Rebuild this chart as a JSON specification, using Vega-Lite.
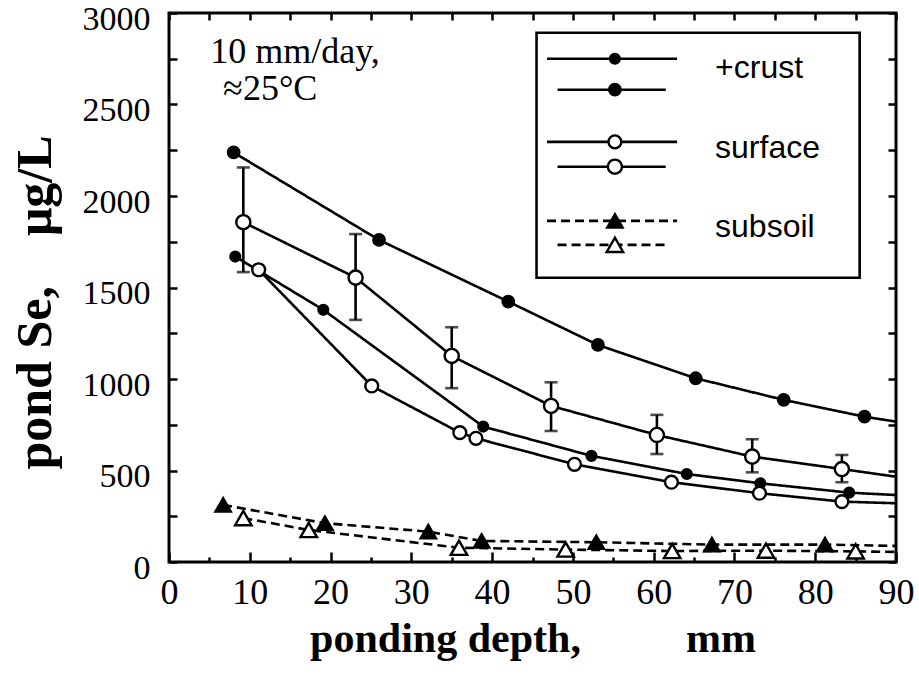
{
  "$schema": "https://vega.github.io/schema/vega-lite/v6.json",
  "width": 727,
  "height": 549,
  "autosize": "none",
  "padding": {"left": 169, "top": 13, "right": 23, "bottom": 118},
  "background": "white",
  "config": {
    "view": {"stroke": "black", "strokeWidth": 3},
    "axis": {
      "domain": false, "grid": false, "tickColor": "black", "tickWidth": 2.5,
      "labelColor": "black", "titleColor": "black",
      "labelFont": "Liberation Serif", "titleFont": "Liberation Serif",
      "labelFontSize": 36, "titleFontSize": 42, "titleFontWeight": "bold",
      "labelOverlap": false, "labelFlush": false
    }
  },
  "datasets": {
    "lines": [
      {"series": "crust_s", "x": 8.2, "y": 1669}, {"series": "crust_s", "x": 19.1, "y": 1378}, {"series": "crust_s", "x": 38.9, "y": 740}, {"series": "crust_s", "x": 52.3, "y": 580}, {"series": "crust_s", "x": 64.1, "y": 481}, {"series": "crust_s", "x": 73.2, "y": 430}, {"series": "crust_s", "x": 84.2, "y": 379}, {"series": "crust_s", "x": 90, "y": 366},
      {"series": "crust_l", "x": 8.0, "y": 2238}, {"series": "crust_l", "x": 26.0, "y": 1760}, {"series": "crust_l", "x": 42.0, "y": 1423}, {"series": "crust_l", "x": 53.1, "y": 1186}, {"series": "crust_l", "x": 65.2, "y": 1004}, {"series": "crust_l", "x": 76.1, "y": 886}, {"series": "crust_l", "x": 86.1, "y": 794}, {"series": "crust_l", "x": 90, "y": 767},
      {"series": "surface_s", "x": 11.1, "y": 1597}, {"series": "surface_s", "x": 25.1, "y": 962}, {"series": "surface_s", "x": 36.0, "y": 707}, {"series": "surface_s", "x": 38.0, "y": 676}, {"series": "surface_s", "x": 50.2, "y": 534}, {"series": "surface_s", "x": 62.2, "y": 436}, {"series": "surface_s", "x": 73.1, "y": 376}, {"series": "surface_s", "x": 83.3, "y": 330}, {"series": "surface_s", "x": 90, "y": 321},
      {"series": "surface_l", "x": 9.2, "y": 1857}, {"series": "surface_l", "x": 23.1, "y": 1554}, {"series": "surface_l", "x": 35.0, "y": 1126}, {"series": "surface_l", "x": 47.3, "y": 853}, {"series": "surface_l", "x": 60.4, "y": 694}, {"series": "surface_l", "x": 72.2, "y": 576}, {"series": "surface_l", "x": 83.3, "y": 508}, {"series": "surface_l", "x": 90, "y": 466},
      {"series": "subsoil_s", "x": 6.7, "y": 312}, {"series": "subsoil_s", "x": 19.3, "y": 212}, {"series": "subsoil_s", "x": 32.1, "y": 166}, {"series": "subsoil_s", "x": 38.7, "y": 115}, {"series": "subsoil_s", "x": 52.9, "y": 108}, {"series": "subsoil_s", "x": 67.2, "y": 95}, {"series": "subsoil_s", "x": 81.2, "y": 95}, {"series": "subsoil_s", "x": 90, "y": 88},
      {"series": "subsoil_l", "x": 9.2, "y": 240}, {"series": "subsoil_l", "x": 17.3, "y": 175}, {"series": "subsoil_l", "x": 35.9, "y": 78}, {"series": "subsoil_l", "x": 49.1, "y": 68}, {"series": "subsoil_l", "x": 62.3, "y": 60}, {"series": "subsoil_l", "x": 73.9, "y": 62}, {"series": "subsoil_l", "x": 85.0, "y": 58}, {"series": "subsoil_l", "x": 90, "y": 55}
    ],
    "points": [
      {"series": "crust_s", "x": 8.2, "y": 1669}, {"series": "crust_s", "x": 19.1, "y": 1378}, {"series": "crust_s", "x": 38.9, "y": 740}, {"series": "crust_s", "x": 52.3, "y": 580}, {"series": "crust_s", "x": 64.1, "y": 481}, {"series": "crust_s", "x": 73.2, "y": 430}, {"series": "crust_s", "x": 84.2, "y": 379},
      {"series": "crust_l", "x": 8.0, "y": 2238}, {"series": "crust_l", "x": 26.0, "y": 1760}, {"series": "crust_l", "x": 42.0, "y": 1423}, {"series": "crust_l", "x": 53.1, "y": 1186}, {"series": "crust_l", "x": 65.2, "y": 1004}, {"series": "crust_l", "x": 76.1, "y": 886}, {"series": "crust_l", "x": 86.1, "y": 794},
      {"series": "surface_s", "x": 11.1, "y": 1597}, {"series": "surface_s", "x": 25.1, "y": 962}, {"series": "surface_s", "x": 36.0, "y": 707}, {"series": "surface_s", "x": 38.0, "y": 676}, {"series": "surface_s", "x": 50.2, "y": 534}, {"series": "surface_s", "x": 62.2, "y": 436}, {"series": "surface_s", "x": 73.1, "y": 376}, {"series": "surface_s", "x": 83.3, "y": 330},
      {"series": "surface_l", "x": 9.2, "y": 1857}, {"series": "surface_l", "x": 23.1, "y": 1554}, {"series": "surface_l", "x": 35.0, "y": 1126}, {"series": "surface_l", "x": 47.3, "y": 853}, {"series": "surface_l", "x": 60.4, "y": 694}, {"series": "surface_l", "x": 72.2, "y": 576}, {"series": "surface_l", "x": 83.3, "y": 508},
      {"series": "subsoil_s", "x": 6.7, "y": 312}, {"series": "subsoil_s", "x": 19.3, "y": 212}, {"series": "subsoil_s", "x": 32.1, "y": 166}, {"series": "subsoil_s", "x": 38.7, "y": 115}, {"series": "subsoil_s", "x": 52.9, "y": 108}, {"series": "subsoil_s", "x": 67.2, "y": 95}, {"series": "subsoil_s", "x": 81.2, "y": 95},
      {"series": "subsoil_l", "x": 9.2, "y": 240}, {"series": "subsoil_l", "x": 17.3, "y": 175}, {"series": "subsoil_l", "x": 35.9, "y": 78}, {"series": "subsoil_l", "x": 49.1, "y": 68}, {"series": "subsoil_l", "x": 62.3, "y": 60}, {"series": "subsoil_l", "x": 73.9, "y": 62}, {"series": "subsoil_l", "x": 85.0, "y": 58}
    ],
    "errors": [
      {"x": 9.2, "lo": 1584, "hi": 2156}, {"x": 23.1, "lo": 1323, "hi": 1792}, {"x": 35.0, "lo": 950, "hi": 1283},
      {"x": 47.3, "lo": 716, "hi": 982}, {"x": 60.4, "lo": 590, "hi": 804}, {"x": 72.2, "lo": 490, "hi": 671}, {"x": 83.3, "lo": 436, "hi": 585}
    ],
    "legendbox": [{"x1": 45.5, "x2": 85.5, "y1": 2892, "y2": 1553}],
    "legend": [
      {"series": "crust_s", "x1": 46.8, "x2": 62.9, "xm": 55.2, "y": 2750},
      {"series": "crust_l", "x1": 48.1, "x2": 61.5, "xm": 55.2, "y": 2581},
      {"series": "surface_s", "x1": 46.8, "x2": 62.9, "xm": 55.2, "y": 2296},
      {"series": "surface_l", "x1": 48.1, "x2": 61.5, "xm": 55.2, "y": 2160},
      {"series": "subsoil_s", "x1": 46.8, "x2": 62.9, "xm": 55.2, "y": 1864},
      {"series": "subsoil_l", "x1": 48.1, "x2": 61.5, "xm": 55.2, "y": 1733}
    ],
    "labels": [
      {"label": "+crust", "x": 67.6, "y": 2646},
      {"label": "surface", "x": 67.6, "y": 2209},
      {"label": "subsoil", "x": 67.6, "y": 1777}
    ],
    "notes": [
      {"label": "10 mm/day,", "x": 5.1, "y": 2728},
      {"label": "≈25°C", "x": 6.7, "y": 2526}
    ]
  },
  "resolve": {"axis": {"x": "independent", "y": "independent"}},
  "layer": [
    {
      "data": {"name": "lines"},
      "mark": {"type": "line", "color": "black", "strokeWidth": 2.6},
      "encoding": {
        "x": {"field": "x", "type": "quantitative", "scale": {"domain": [0, 90], "nice": false, "zero": false},
          "axis": {"orient": "bottom", "values": [0, 10, 20, 30, 40, 50, 60, 70, 80, 90], "tickSize": -10, "labelPadding": 23, "format": "d",
            "title": "ponding depth,\u00a0\u00a0\u00a0\u00a0\u00a0\u00a0\u00a0\u00a0\u00a0\u00a0mm", "titlePadding": 8}},
        "y": {"field": "y", "type": "quantitative", "scale": {"domain": [0, 3000], "nice": false, "zero": true},
          "axis": {"orient": "left", "values": [0, 250, 500, 750, 1000, 1250, 1500, 1750, 2000, 2250, 2500, 2750, 3000], "labelExpr": "datum.value % 500 == 0 ? datum.label : ''",
            "format": "d", "tickSize": -8, "labelPadding": 27, "labelOffset": 6, "labelFontSize": 34, "title": "pond Se,\u00a0\u00a0\u00a0\u00a0μg/L", "titleFontSize": 50, "titlePadding": 22, "titleY": 289}},
        "detail": {"field": "series", "type": "nominal"},
        "strokeDash": {"field": "series", "type": "nominal", "legend": null,
          "scale": {"domain": ["crust_s", "crust_l", "surface_s", "surface_l", "subsoil_s", "subsoil_l"], "range": [[1, 0], [1, 0], [1, 0], [1, 0], [9, 5], [9, 5]]}}
      }
    },
    {
      "data": {"name": "errors"},
      "mark": {"type": "rule", "color": "black", "strokeWidth": 2.6},
      "encoding": {
        "x": {"field": "x", "type": "quantitative", "scale": {"domain": [0, 90], "nice": false, "zero": false},
          "axis": {"orient": "top", "values": [0, 5, 10, 15, 20, 25, 30, 35, 40, 45, 50, 55, 60, 65, 70, 75, 80, 85, 90], "tickSize": -7, "labels": false, "title": null}},
        "y": {"field": "lo", "type": "quantitative", "scale": {"domain": [0, 3000], "nice": false, "zero": true},
          "axis": {"orient": "right", "values": [0, 250, 500, 750, 1000, 1250, 1500, 1750, 2000, 2250, 2500, 2750, 3000], "tickSize": -8, "labels": false, "title": null}},
        "y2": {"field": "hi"}
      }
    },
    {
      "data": {"name": "errors"},
      "transform": [{"fold": ["lo", "hi"], "as": ["end", "value"]}],
      "mark": {"type": "tick", "orient": "horizontal", "color": "black", "size": 13, "thickness": 2.6},
      "encoding": {
        "x": {"field": "x", "type": "quantitative", "scale": {"domain": [0, 90], "nice": false, "zero": false}, "axis": null},
        "y": {"field": "value", "type": "quantitative", "scale": {"domain": [0, 3000], "nice": false, "zero": true}, "axis": null}
      }
    },
    {
      "data": {"name": "points"},
      "mark": {"type": "point", "stroke": "black", "strokeWidth": 2.4, "opacity": 1, "fillOpacity": 1},
      "encoding": {
        "x": {"field": "x", "type": "quantitative", "scale": {"domain": [0, 90], "nice": false, "zero": false},
          "axis": {"orient": "bottom", "values": [5, 15, 25, 35, 45, 55, 65, 75, 85], "tickSize": -5, "labels": false, "title": null}},
        "y": {"field": "y", "type": "quantitative", "scale": {"domain": [0, 3000], "nice": false, "zero": true}, "axis": null},
        "shape": {"field": "series", "type": "nominal", "legend": null,
          "scale": {"domain": ["crust_s", "crust_l", "surface_s", "surface_l", "subsoil_s", "subsoil_l"], "range": ["circle", "circle", "circle", "circle", "triangle-up", "triangle-up"]}},
        "fill": {"field": "series", "type": "nominal", "legend": null,
          "scale": {"domain": ["crust_s", "crust_l", "surface_s", "surface_l", "subsoil_s", "subsoil_l"], "range": ["black", "black", "white", "white", "black", "white"]}},
        "size": {"field": "series", "type": "nominal", "legend": null,
          "scale": {"domain": ["crust_s", "crust_l", "surface_s", "surface_l", "subsoil_s", "subsoil_l"], "range": [95, 270, 75, 240, 32, 130]}}
      }
    },
    {
      "data": {"name": "legendbox"},
      "mark": {"type": "rect", "fill": "white", "stroke": "black", "strokeWidth": 2.6},
      "encoding": {
        "x": {"field": "x1", "type": "quantitative", "scale": {"domain": [0, 90], "nice": false, "zero": false}, "axis": null},
        "x2": {"field": "x2"},
        "y": {"field": "y1", "type": "quantitative", "scale": {"domain": [0, 3000], "nice": false, "zero": true}, "axis": null},
        "y2": {"field": "y2"}
      }
    },
    {
      "data": {"name": "legend"},
      "mark": {"type": "rule", "color": "black", "strokeWidth": 2.6},
      "encoding": {
        "x": {"field": "x1", "type": "quantitative", "scale": {"domain": [0, 90], "nice": false, "zero": false}, "axis": null},
        "x2": {"field": "x2"},
        "y": {"field": "y", "type": "quantitative", "scale": {"domain": [0, 3000], "nice": false, "zero": true}, "axis": null},
        "strokeDash": {"field": "series", "type": "nominal", "legend": null,
          "scale": {"domain": ["crust_s", "crust_l", "surface_s", "surface_l", "subsoil_s", "subsoil_l"], "range": [[1, 0], [1, 0], [1, 0], [1, 0], [9, 5], [9, 5]]}}
      }
    },
    {
      "data": {"name": "legend"},
      "mark": {"type": "point", "stroke": "black", "strokeWidth": 2.4, "opacity": 1, "fillOpacity": 1},
      "encoding": {
        "x": {"field": "xm", "type": "quantitative", "scale": {"domain": [0, 90], "nice": false, "zero": false}, "axis": null},
        "y": {"field": "y", "type": "quantitative", "scale": {"domain": [0, 3000], "nice": false, "zero": true}, "axis": null},
        "shape": {"field": "series", "type": "nominal", "legend": null,
          "scale": {"domain": ["crust_s", "crust_l", "surface_s", "surface_l", "subsoil_s", "subsoil_l"], "range": ["circle", "circle", "circle", "circle", "triangle-up", "triangle-up"]}},
        "fill": {"field": "series", "type": "nominal", "legend": null,
          "scale": {"domain": ["crust_s", "crust_l", "surface_s", "surface_l", "subsoil_s", "subsoil_l"], "range": ["black", "black", "white", "white", "black", "white"]}},
        "size": {"field": "series", "type": "nominal", "legend": null,
          "scale": {"domain": ["crust_s", "crust_l", "surface_s", "surface_l", "subsoil_s", "subsoil_l"], "range": [95, 270, 75, 240, 32, 130]}}
      }
    },
    {
      "data": {"name": "labels"},
      "mark": {"type": "text", "font": "Liberation Sans", "fontSize": 32, "align": "left", "baseline": "alphabetic", "color": "black"},
      "encoding": {
        "x": {"field": "x", "type": "quantitative", "scale": {"domain": [0, 90], "nice": false, "zero": false}, "axis": null},
        "y": {"field": "y", "type": "quantitative", "scale": {"domain": [0, 3000], "nice": false, "zero": true}, "axis": null},
        "text": {"field": "label", "type": "nominal"}
      }
    },
    {
      "data": {"name": "notes"},
      "mark": {"type": "text", "font": "Liberation Serif", "fontSize": 36, "align": "left", "baseline": "alphabetic", "color": "black"},
      "encoding": {
        "x": {"field": "x", "type": "quantitative", "scale": {"domain": [0, 90], "nice": false, "zero": false}, "axis": null},
        "y": {"field": "y", "type": "quantitative", "scale": {"domain": [0, 3000], "nice": false, "zero": true}, "axis": null},
        "text": {"field": "label", "type": "nominal"}
      }
    }
  ]
}
